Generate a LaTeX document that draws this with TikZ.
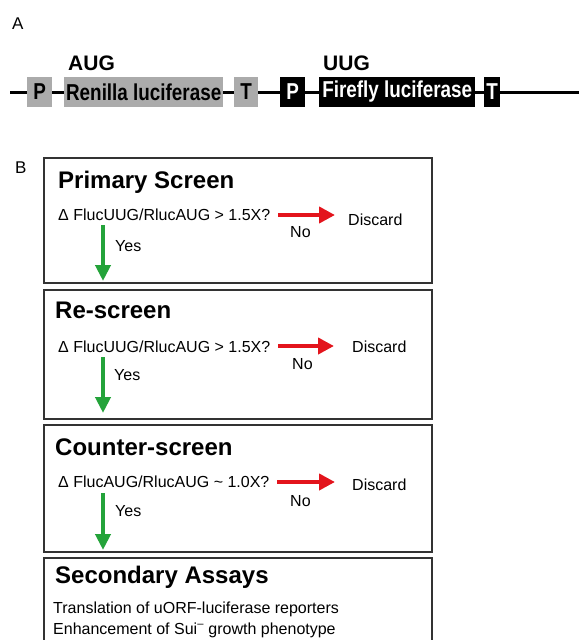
\documentclass[tikz,border=0pt]{standalone}
\usepackage{fontspec}
\usepackage{graphicx}
\setmainfont{Liberation Sans}
\usetikzlibrary{arrows.meta}
\definecolor{arrred}{HTML}{E3141C}
\definecolor{arrgreen}{HTML}{24A33A}
\definecolor{boxgray}{HTML}{ABABAB}
\newcommand{\cond}[1]{\scalebox{0.82}[1]{#1}}
\begin{document}
\begin{tikzpicture}[x=1pt,y=-1pt,
  lbl/.style={inner sep=0pt, anchor=base west, font=\fontsize{16}{19}\selectfont},
  ttl/.style={inner sep=0pt, anchor=base west, font=\fontsize{24}{28}\selectfont\bfseries},
  codon/.style={inner sep=0pt, anchor=base west, font=\fontsize{21}{25}\selectfont\bfseries},
  panellbl/.style={inner sep=0pt, anchor=base west, font=\fontsize{17}{20}\selectfont},
  gene/.style={inner sep=0pt, anchor=west, minimum height=30pt, font=\fontsize{23}{26}\selectfont\bfseries},
  graybox/.style={gene, fill=boxgray, text=black},
  blackbox/.style={gene, fill=black, text=white},
  panel/.style={draw=black!80, line width=1.5pt, anchor=north west, inner sep=0pt, minimum width=388pt},
  redarr/.style={arrred, line width=4pt, -{Triangle[length=16pt,width=16pt]}},
  greenarr/.style={arrgreen, line width=4pt, -{Triangle[length=16pt,width=15pt]}}
]
\clip (0,0) rectangle (579,640);

% ---------- Panel A ----------
\node[panellbl] (labA) at (12,29) {A};
\node[codon] (aug) at (68,70) {AUG};
\node[codon] (uug) at (323,70) {UUG};

\node[graybox, minimum width=25pt] (p1) at (27,92) {\cond{P}};
\node[graybox, minimum width=159pt] (ren) at (64,92) {\cond{Renilla luciferase}};
\node[graybox, minimum width=24pt] (t1) at (234,92) {\cond{T}};
\node[blackbox, minimum width=25pt] (p2) at (280,92) {\cond{P}};
\node[blackbox, minimum width=156pt] (ff) at (319,92) {\cond{Firefly luciferase}};
\node[blackbox, minimum width=16pt] (t2) at (484,92) {\cond{T}};
\coordinate (lstart) at (10,92);
\coordinate (lend) at (579,92);
\draw[line width=3pt] (lstart) -- (p1) -- (ren) -- (t1) -- (p2) -- (ff) -- (t2) -- (lend);

% ---------- Panel B ----------
\node[panellbl] (labB) at (15,173) {B};

\node[panel, minimum height=125pt] (b1) at (43,157) {};
\node[panel, minimum height=129pt] (b2) at (43,289) {};
\node[panel, minimum height=127pt] (b3) at (43,424) {};
\node[panel, minimum height=143pt] (b4) at (43,557) {};

% box 1
\node[ttl] (t1ttl) at (58,188) {Primary Screen};
\node[lbl] (q1) at (58,220) {Δ FlucUUG/RlucAUG > 1.5X?};
\node[lbl] (d1) at (348,225) {Discard};
\node[lbl] (n1) at (290,237) {No};
\node[lbl] (y1) at (115,251) {Yes};
\coordinate (r1s) at (278,215);
\coordinate (r1e) at (335,215);
\draw[redarr] (r1s) -- (r1e);
\coordinate (g1s) at (103,225);
\coordinate (g1e) at (103,281);
\draw[greenarr] (g1s) -- (g1e);

% box 2
\node[ttl] (t2ttl) at (55,318) {Re-screen};
\node[lbl] (q2) at (58,352) {Δ FlucUUG/RlucAUG > 1.5X?};
\node[lbl] (d2) at (352,352) {Discard};
\node[lbl] (n2) at (292,369) {No};
\node[lbl] (y2) at (114,380) {Yes};
\coordinate (r2s) at (278,346);
\coordinate (r2e) at (334,346);
\draw[redarr] (r2s) -- (r2e);
\coordinate (g2s) at (103,357);
\coordinate (g2e) at (103,413);
\draw[greenarr] (g2s) -- (g2e);

% box 3
\node[ttl] (t3ttl) at (55,455) {Counter-screen};
\node[lbl] (q3) at (58,487) {Δ FlucAUG/RlucAUG \textasciitilde{} 1.0X?};
\node[lbl] (d3) at (352,490) {Discard};
\node[lbl] (n3) at (290,506) {No};
\node[lbl] (y3) at (115,516) {Yes};
\coordinate (r3s) at (277,482);
\coordinate (r3e) at (335,482);
\draw[redarr] (r3s) -- (r3e);
\coordinate (g3s) at (103,493);
\coordinate (g3e) at (103,550);
\draw[greenarr] (g3s) -- (g3e);

% box 4
\node[ttl] (t4ttl) at (55,583) {Secondary Assays};
\node[lbl] (s1) at (53,613) {Translation of uORF-luciferase reporters};
\node[lbl] (s2) at (53,634) {Enhancement of Sui\textsuperscript{–} growth phenotype};
\end{tikzpicture}
\end{document}
